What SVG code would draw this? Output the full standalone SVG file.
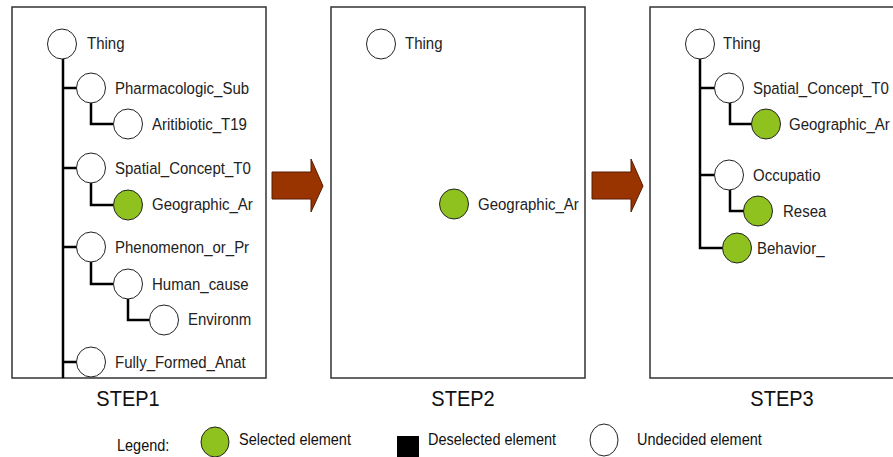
<svg xmlns="http://www.w3.org/2000/svg" width="893" height="457" viewBox="0 0 893 457">
  <style>
    .frame { fill: #ffffff; stroke: #333333; stroke-width: 1.5; }
    .node { stroke: #222222; stroke-width: 1; }
    .undecided { fill: #ffffff; }
    .selected { fill: #8fc21e; }
    .label { font-family: "Liberation Sans", Arial, sans-serif; font-size: 15px; fill: #222222; }
    .step { font-family: "Liberation Sans", Arial, sans-serif; font-size: 20px; fill: #111111; text-anchor: middle; }
    .legend { font-family: "Liberation Sans", Arial, sans-serif; font-size: 14.5px; fill: #111111; }
    .edge { fill: none; stroke: #000000; stroke-width: 2.5; }
    .flow { fill: #993300; stroke: #5a1c00; stroke-width: 1; }
  </style>
  <defs>
    <clipPath id="clip-step1">
      <rect x="12" y="7" width="254" height="371"/>
    </clipPath>
    <clipPath id="clip-step3">
      <rect x="650" y="7" width="243" height="371"/>
    </clipPath>
  </defs>

  <rect width="893" height="457" fill="#ffffff"/>

  <!-- step panels -->
  <g id="panel-step1">
    <rect class="frame" x="12" y="7" width="254" height="371"/>
  </g>
  <g id="panel-step2">
    <rect class="frame" x="331" y="7" width="254" height="371"/>
  </g>
  <g id="panel-step3">
    <rect class="frame" x="650" y="7" width="260" height="371"/>
  </g>

  <!-- tree connectors -->
  <g id="connectors">
    <g clip-path="url(#clip-step1)">
      <path class="edge" d="M63 59 V378 M63 88 H77 M63 168 H77 M63 247 H77 M63 362 H77"/>
      <path class="edge" d="M91 103 V124 H113"/>
      <path class="edge" d="M91 183 V205 H113"/>
      <path class="edge" d="M91 262 V284 H113"/>
      <path class="edge" d="M128 298 V320 H149"/>
    </g>
    <g clip-path="url(#clip-step3)">
      <path class="edge" d="M700 59 V248 H723 M700 88 H715 M700 175 H715"/>
      <path class="edge" d="M730 103 V124 H752"/>
      <path class="edge" d="M730 190 V211 H744"/>
    </g>
  </g>

  <!-- STEP1 nodes -->
  <g clip-path="url(#clip-step1)">
    <g id="s1-thing"><ellipse class="node undecided" cx="62" cy="44" rx="14.5" ry="15"/><text class="label" transform="translate(87 49) scale(1 1.1)">Thing</text></g>
    <g id="s1-pharmacologic"><ellipse class="node undecided" cx="91" cy="88" rx="14.5" ry="15"/><text class="label" transform="translate(115 94) scale(1 1.1)">Pharmacologic_Sub</text></g>
    <g id="s1-aritibiotic"><ellipse class="node undecided" cx="128" cy="124" rx="14.5" ry="15"/><text class="label" transform="translate(152 130) scale(1 1.1)">Aritibiotic_T19</text></g>
    <g id="s1-spatial"><ellipse class="node undecided" cx="91" cy="168" rx="14.5" ry="15"/><text class="label" transform="translate(115 174) scale(1 1.1)">Spatial_Concept_T0</text></g>
    <g id="s1-geographic"><ellipse class="node selected" cx="128" cy="205" rx="14.5" ry="15"/><text class="label" transform="translate(152 210) scale(1 1.1)">Geographic_Ar</text></g>
    <g id="s1-phenomenon"><ellipse class="node undecided" cx="91" cy="247" rx="14.5" ry="15"/><text class="label" transform="translate(115 253) scale(1 1.1)">Phenomenon_or_Pr</text></g>
    <g id="s1-human-cause"><ellipse class="node undecided" cx="128" cy="284" rx="14.5" ry="15"/><text class="label" transform="translate(152 290) scale(1 1.1)">Human_cause</text></g>
    <g id="s1-environm"><ellipse class="node undecided" cx="164" cy="320" rx="14.5" ry="15"/><text class="label" transform="translate(188 325) scale(1 1.1)">Environm</text></g>
    <g id="s1-fully-formed"><ellipse class="node undecided" cx="91" cy="362" rx="14.5" ry="15"/><text class="label" transform="translate(115 368) scale(1 1.1)">Fully_Formed_Anat</text></g>
  </g>

  <!-- STEP2 nodes -->
  <g id="s2-thing"><ellipse class="node undecided" cx="381" cy="44" rx="14.5" ry="15"/><text class="label" transform="translate(405 49) scale(1 1.1)">Thing</text></g>
  <g id="s2-geographic"><ellipse class="node selected" cx="454" cy="204" rx="14.5" ry="15"/><text class="label" transform="translate(478 210) scale(1 1.1)">Geographic_Ar</text></g>

  <!-- STEP3 nodes -->
  <g clip-path="url(#clip-step3)">
    <g id="s3-thing"><ellipse class="node undecided" cx="700" cy="44" rx="14.5" ry="15"/><text class="label" transform="translate(723 49) scale(1 1.1)">Thing</text></g>
    <g id="s3-spatial"><ellipse class="node undecided" cx="729" cy="88" rx="14.5" ry="15"/><text class="label" transform="translate(753 94) scale(1 1.1)">Spatial_Concept_T0</text></g>
    <g id="s3-geographic"><ellipse class="node selected" cx="766" cy="124" rx="14.5" ry="15"/><text class="label" transform="translate(789 130) scale(1 1.1)">Geographic_Ar</text></g>
    <g id="s3-occupatio"><ellipse class="node undecided" cx="729" cy="175" rx="14.5" ry="15"/><text class="label" transform="translate(753 181) scale(1 1.1)">Occupatio</text></g>
    <g id="s3-resea"><ellipse class="node selected" cx="758" cy="211" rx="14.5" ry="15"/><text class="label" transform="translate(783 217) scale(1 1.1)">Resea</text></g>
    <g id="s3-behavior"><ellipse class="node selected" cx="737" cy="248" rx="14.5" ry="15"/><text class="label" transform="translate(757 254) scale(1 1.1)">Behavior_</text></g>
  </g>

  <!-- block arrows between steps -->
  <g id="arrow-1-2">
    <polygon class="flow" points="272,172 311,172 311,159 323,186 311,212 311,199 272,199"/>
  </g>
  <g id="arrow-2-3">
    <polygon class="flow" points="592,172 631,172 631,159 643,186 631,212 631,199 592,199"/>
  </g>

  <!-- step captions -->
  <text class="step" transform="translate(128 406) scale(1 1.12)">STEP1</text>
  <text class="step" transform="translate(463 406) scale(1 1.12)">STEP2</text>
  <text class="step" transform="translate(782 406) scale(1 1.12)">STEP3</text>

  <!-- legend -->
  <g id="legend">
    <text class="legend" transform="translate(117 451) scale(1 1.15)">Legend:</text>
    <ellipse class="node selected" cx="215" cy="442" rx="14" ry="15"/>
    <text class="legend" transform="translate(239 445) scale(1 1.15)">Selected element</text>
    <rect x="397" y="436" width="22" height="21" fill="#000000"/>
    <text class="legend" transform="translate(428 445) scale(1 1.15)">Deselected element</text>
    <ellipse class="node undecided" cx="604" cy="440" rx="14" ry="16"/>
    <text class="legend" transform="translate(637 445) scale(1 1.15)">Undecided element</text>
  </g>
</svg>
